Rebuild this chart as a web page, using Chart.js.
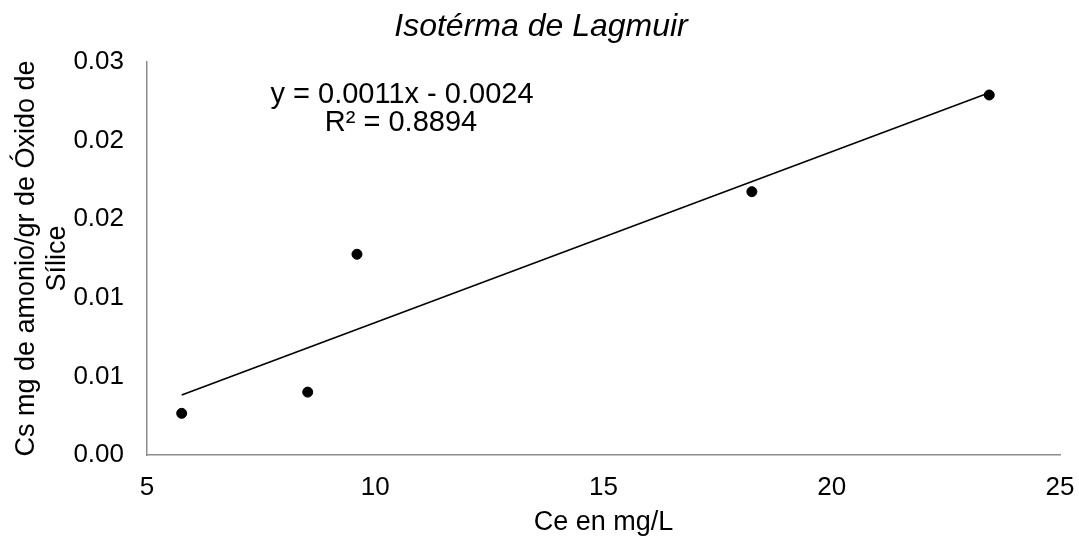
<!DOCTYPE html>
<html>
<head>
<meta charset="utf-8">
<title>Isotérma de Lagmuir</title>
<script src="https://cdn.jsdelivr.net/npm/chart.js@4.4.1/dist/chart.umd.min.js"></script>
<style>
  html, body { margin: 0; padding: 0; background: #fff; }
  #wrap { width: 1079px; height: 540px; position: relative; }
</style>
</head>
<body>
<div id="wrap"><canvas id="isoChart"></canvas></div>
<script>
// data
const ceValues = [5.76, 8.52, 9.60, 18.25, 23.45];          // Ce en mg/L
const csValues = [0.00265, 0.0040, 0.01277, 0.01675, 0.0229]; // Cs mg/gr
const yTickLabels = ['0.00', '0.01', '0.01', '0.02', '0.02', '0.03'];
const xTickLabels = ['5', '10', '15', '20', '25'];
const trendText = ['y = 0.0011x - 0.0024', 'R² = 0.8894'];

const FONT = "'Liberation Sans', Arial, sans-serif";

// least squares fit, like the Excel trendline
function linearFit(xs, ys) {
    let n = xs.length;
    let mx = xs.reduce((a, b) => a + b, 0) / n;
    let my = ys.reduce((a, b) => a + b, 0) / n;
    let sxy = 0, sxx = 0;
    for (let i = 0; i < n; i++) {
        sxy += (xs[i] - mx) * (ys[i] - my);
        sxx += (xs[i] - mx) * (xs[i] - mx);
    }
    let slope = sxy / sxx;
    return { slope: slope, intercept: my - slope * mx };
}

let fit = linearFit(ceValues, csValues);
let xMin = Math.min(...ceValues);
let xMax = Math.max(...ceValues);
let trendPoints = [xMin, xMax].map(x => ({ x: x, y: fit.slope * x + fit.intercept }));
let scatterPoints = ceValues.map((x, i) => ({ x: x, y: csValues[i] }));

// equation label drawn inside the plot
const trendLabel = {
    id: 'trendLabel',
    afterDatasetsDraw(chart) {
        let ctx = chart.ctx;
        ctx.save();
        ctx.font = "29px " + FONT;
        ctx.fillStyle = '#000';
        ctx.textAlign = 'center';
        ctx.textBaseline = 'middle';
        ctx.fillText(trendText[0], 402, 95);
        ctx.fillText(trendText[1], 401, 123);
        ctx.restore();
    }
};

new Chart(document.getElementById('isoChart').getContext('2d'), {
    type: 'scatter',
    data: {
        datasets: [
            {
                label: 'Cs',
                data: scatterPoints,
                backgroundColor: '#000',
                borderColor: '#000',
                pointRadius: 5,
                pointHoverRadius: 5,
                showLine: false
            },
            {
                label: 'Lineal',
                data: trendPoints,
                borderColor: '#000',
                borderWidth: 1.6,
                pointRadius: 0,
                showLine: true,
                fill: false
            }
        ]
    },
    options: {
        responsive: true,
        maintainAspectRatio: false,
        animation: false,
        // left padding only to centre the title like the original
        layout: { padding: { left: 22, right: 19, top: 0, bottom: 0 } },
        plugins: {
            legend: { display: false },
            tooltip: { enabled: false },
            title: {
                display: true,
                text: 'Isotérma de Lagmuir',
                color: '#000',
                font: { family: FONT, size: 32, style: 'italic', weight: 'normal' },
                padding: { top: 8, bottom: 15.6 }
            }
        },
        scales: {
            x: {
                type: 'linear',
                min: 5,
                max: 25,
                grid: { display: false, drawTicks: false },
                border: { display: true, color: '#8c8c8c', width: 1.5 },
                ticks: {
                    stepSize: 5,
                    padding: 17,
                    color: '#000',
                    font: { family: FONT, size: 26 },
                    maxRotation: 0,
                    callback: (v, i) => xTickLabels[i]
                },
                title: {
                    display: true,
                    text: 'Ce en mg/L',
                    color: '#000',
                    font: { family: FONT, size: 27 },
                    padding: { top: 0, bottom: 1 }
                },
                afterFit: s => {
                    s.height = 85;
                    s.paddingLeft = 0;
                    s.paddingRight = 0;
                }
            },
            y: {
                type: 'linear',
                min: 0,
                max: 0.025,
                grid: { display: false, drawTicks: false },
                border: { display: true, color: '#8c8c8c', width: 1.5 },
                ticks: {
                    stepSize: 0.005,
                    padding: 23,
                    color: '#000',
                    font: { family: FONT, size: 26 },
                    callback: (v, i) => yTickLabels[i]
                },
                title: {
                    display: true,
                    text: ['Cs mg de amonio/gr de Óxido de', 'Sílice'],
                    color: '#000',
                    font: { family: FONT, size: 27, lineHeight: 1.15 },
                    padding: { top: -11, bottom: 0 }
                },
                afterFit: s => { s.width = 125; }
            }
        }
    },
    plugins: [trendLabel]
});
</script>
</body>
</html>
